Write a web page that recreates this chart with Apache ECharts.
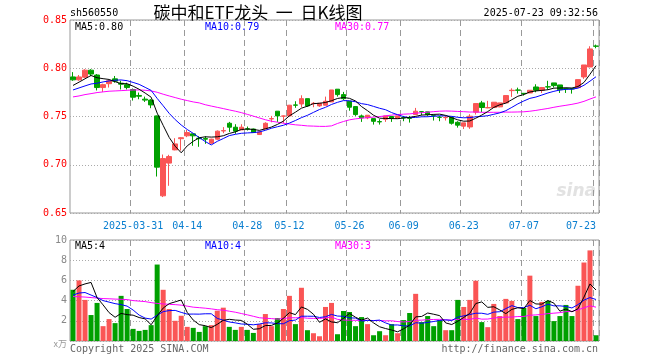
<!DOCTYPE html>
<html><head><meta charset="utf-8">
<script src="https://cdn.jsdelivr.net/npm/echarts@6/dist/echarts.min.js"></script>
<style>html,body{margin:0;padding:0;background:#fff}#c{width:660px;height:360px}</style>
</head><body><div id="c"></div><script>
const dates = [
'2025-03-17','2025-03-18','2025-03-19','2025-03-20','2025-03-21','2025-03-24','2025-03-25','2025-03-26','2025-03-27','2025-03-28','2025-03-31',
'2025-04-01','2025-04-02','2025-04-03','2025-04-07','2025-04-08','2025-04-09','2025-04-10','2025-04-11','2025-04-14',
'2025-04-15','2025-04-16','2025-04-17','2025-04-18','2025-04-21','2025-04-22','2025-04-23','2025-04-24','2025-04-25','2025-04-28','2025-04-29','2025-04-30',
'2025-05-06','2025-05-07','2025-05-08','2025-05-09','2025-05-12','2025-05-13','2025-05-14','2025-05-15','2025-05-16','2025-05-19','2025-05-20','2025-05-21','2025-05-22','2025-05-23','2025-05-26','2025-05-27','2025-05-28','2025-05-29','2025-05-30',
'2025-06-03','2025-06-04','2025-06-05','2025-06-06','2025-06-09','2025-06-10','2025-06-11','2025-06-12','2025-06-13','2025-06-16','2025-06-17','2025-06-18','2025-06-19','2025-06-20','2025-06-23','2025-06-24','2025-06-25','2025-06-26','2025-06-27','2025-06-30',
'2025-07-01','2025-07-02','2025-07-03','2025-07-04','2025-07-07','2025-07-08','2025-07-09','2025-07-10','2025-07-11','2025-07-14','2025-07-15','2025-07-16','2025-07-17','2025-07-18','2025-07-21','2025-07-22','2025-07-23'];

const opens = [0.791,0.788,0.7907,0.798,0.793,0.780,0.784,0.789,0.7845,0.783,
0.778,0.7718,0.768,0.767,0.7506,0.6678,0.7017,0.7154,0.727,0.730,
0.732,0.7275,0.7272,0.7224,0.7265,0.7350,0.743,0.7389,0.7361,0.7372,
0.737,0.7313,0.737,0.7475,0.7555,0.7503,0.7506,0.7620,0.763,0.7685,
0.7634,0.761,0.7617,0.7651,0.7783,0.7727,0.7658,0.7603,0.7506,0.7486,
0.7478,0.7447,0.7472,0.750,0.748,0.7489,0.7482,0.752,0.755,0.7548,
0.7508,0.7494,0.7488,0.7492,0.7440,0.740,0.7392,0.7545,0.7641,0.7589,
0.7593,0.760,0.7641,0.7768,0.7775,0.7740,0.7744,0.7806,0.7772,0.7808,
0.7848,0.7827,0.7790,0.7788,0.7799,0.791,0.8013,0.8230];

const closes = [0.788,0.791,0.798,0.794,0.780,0.783,0.787,0.7866,0.7835,0.780,
0.770,0.771,0.767,0.762,0.6975,0.7064,0.7085,0.7216,0.728,0.7333,
0.730,0.727,0.7265,0.7265,0.7348,0.7354,0.7389,0.7348,0.7389,0.737,
0.7334,0.734,0.743,0.7478,0.7506,0.7506,0.7617,0.7617,0.7685,0.761,
0.7637,0.7637,0.7658,0.7775,0.7727,0.7685,0.7596,0.752,0.7486,0.7513,
0.745,0.7444,0.7506,0.748,0.7506,0.7486,0.748,0.7555,0.7548,0.752,
0.7506,0.7492,0.749,0.743,0.7410,0.7434,0.7503,0.7634,0.7593,0.7593,
0.7648,0.7641,0.7717,0.7772,0.7772,0.7737,0.7772,0.7772,0.780,0.7806,
0.782,0.7778,0.7786,0.7786,0.7882,0.8034,0.820,0.8228];

const highs = [0.796,0.793,0.799,0.799,0.794,0.784,0.788,0.792,0.787,0.785,
0.779,0.7748,0.7706,0.768,0.751,0.7106,0.7103,0.7275,0.7286,0.736,
0.732,0.7296,0.7296,0.727,0.7355,0.739,0.7444,0.742,0.742,0.7396,
0.7375,0.735,0.744,0.7506,0.7555,0.751,0.762,0.7658,0.772,0.7685,
0.765,0.764,0.7706,0.7775,0.7783,0.7755,0.766,0.7603,0.752,0.7513,
0.7478,0.7472,0.7506,0.7506,0.7506,0.7506,0.7506,0.7589,0.7555,0.7548,
0.752,0.7506,0.7506,0.7492,0.7451,0.7434,0.7524,0.7634,0.7662,0.7662,
0.7648,0.7641,0.772,0.7792,0.7799,0.7744,0.7772,0.7834,0.7806,0.787,
0.7848,0.7827,0.7790,0.7793,0.7882,0.8034,0.8228,0.8245];

const lows = [0.787,0.787,0.790,0.792,0.777,0.7755,0.780,0.785,0.778,0.778,
0.7665,0.7679,0.7651,0.7586,0.6878,0.6665,0.6782,0.715,0.7147,0.7286,
0.7196,0.7186,0.7217,0.7217,0.726,0.7327,0.734,0.732,0.736,0.7355,
0.733,0.731,0.737,0.744,0.7444,0.743,0.7506,0.759,0.7596,0.760,
0.7596,0.760,0.7617,0.765,0.7706,0.767,0.756,0.7506,0.7444,0.7472,
0.7416,0.7416,0.7444,0.7444,0.748,0.7451,0.7437,0.752,0.7513,0.7506,
0.7458,0.7451,0.7458,0.7416,0.7385,0.737,0.7372,0.752,0.7545,0.7586,
0.759,0.7596,0.7641,0.7703,0.7737,0.7717,0.7744,0.7751,0.7744,0.7779,
0.780,0.7744,0.7744,0.7737,0.7799,0.789,0.8013,0.8207];

const volumes = [5.07,6.0,4.07,2.57,3.77,1.47,2.17,1.77,4.47,3.17,
1.2,1.0,1.1,1.57,7.57,5.07,3.17,2.0,2.5,1.4,
1.3,0.9,1.47,1.57,3.0,3.3,1.4,1.1,1.4,1.1,
0.8,1.67,2.67,1.47,2.27,3.17,4.47,1.67,5.27,1.07,
0.77,0.47,3.37,3.77,0.67,2.97,2.87,1.47,2.37,1.67,
0.57,0.97,0.57,1.67,0.77,2.07,2.77,4.67,1.87,2.47,
1.47,2.07,1.07,1.07,4.07,3.37,4.07,5.97,1.87,1.37,
3.67,2.47,4.17,3.97,2.17,3.27,6.47,2.47,3.87,3.97,
1.97,2.47,3.57,2.47,5.47,7.77,8.97,0.57];

// moving-average values before enough history is visible
const ma5Lead = [0.7822,0.7856,0.7891,0.7925];
const ma10Lead = [0.7775,0.7796,0.7817,0.7837,0.7845,0.7858,0.7869,0.7876,0.7879];
const ma30Lead = [0.7703,0.7713,0.7727,0.7737,0.7748,0.7755,0.7762,0.7765,0.7768,0.7772,
0.7775,0.7775,0.7772,0.7765,0.7751,0.7731,0.7713,0.7696,0.7679,0.7665,
0.7651,0.7641,0.7622,0.7608,0.7595,0.7582,0.7568,0.7555,0.7540];
const vma5Lead = [4.9,5.45,5.65,5.8];
const vma10Lead = [4.55,4.75,4.8,4.55,4.3,4.0,3.85,3.7,3.6];
const vma30Lead = [4.4,4.38,4.35,4.3,4.25,4.2,4.18,4.15,4.13,4.1,4.0,3.95,3.9,3.8,3.72,3.67,3.63,3.6,3.55,3.45,3.35,3.3,3.25,3.18,3.1,3.05,2.95,2.85,2.72];

const labelDates = ['2025-03-31','2025-04-14','2025-04-28','2025-05-12','2025-05-26','2025-06-09','2025-06-23','2025-07-07','2025-07-23'];
const labelTexts = ['2025-03-31','04-14','04-28','05-12','05-26','06-09','06-23','07-07','07-23'];
const priceTicks = {min:0.65, max:0.85, interval:0.05};
const volTicks = {min:0, max:10, interval:2};

function movingAvg(vals, n, lead){
  return vals.map((v,i)=>{
    if(i < n-1) return lead[i];
    let s=0; for(let k=i-n+1;k<=i;k++) s+=vals[k];
    return +(s/n).toFixed(5);
  });
}

const RED='#fa5555', GREEN='#00a000';
const MONO='"DejaVu Sans Mono", monospace';
const candleData = dates.map((d,i)=>[opens[i],closes[i],lows[i],highs[i]]);
const volData = volumes.map((v,i)=>({value:v,itemStyle:{color: closes[i]>=opens[i]?RED:GREEN}}));

const chart = echarts.init(document.getElementById('c'));
const lineS = (name,data,color,x,y)=>({name,type:'line',data,xAxisIndex:x,yAxisIndex:y,symbol:'none',silent:true,
  lineStyle:{color,width:1},itemStyle:{color},z:3});
const xSplit = ()=>({show:true,interval:(i,v)=>labelDates.indexOf(v)>=0,lineStyle:{color:'#999',width:1,type:[6,4]}});

chart.setOption({
  animation:false,
  grid:[
    {left:70,right:61,top:20,height:193,show:true,borderColor:'#999',borderWidth:1},
    {left:70,right:61,top:240,height:101,show:true,borderColor:'#999',borderWidth:1}
  ],
  xAxis:[
    {type:'category',data:dates,gridIndex:0,
     axisLine:{show:false},axisTick:{show:false},splitLine:xSplit(),
     axisLabel:{color:'#0a7fd0',fontFamily:MONO,fontSize:10,margin:8,alignMaxLabel:'right',
       interval:(i,v)=>labelDates.indexOf(v)>=0,
       formatter:(val)=>labelTexts[labelDates.indexOf(val)]||''}},
    {type:'category',data:dates,gridIndex:1,
     axisLine:{show:false},axisTick:{show:false},splitLine:xSplit(),axisLabel:{show:false}}
  ],
  yAxis:[
    {type:'value',gridIndex:0,min:priceTicks.min,max:priceTicks.max,interval:priceTicks.interval,
     axisLine:{show:false},axisTick:{show:false},
     splitLine:{show:true,lineStyle:{color:'#aaa',type:[1,2],width:1}},
     axisLabel:{color:'#ff0000',fontFamily:MONO,fontSize:10,margin:3,formatter:v=>v.toFixed(2)}},
    {type:'value',gridIndex:1,min:volTicks.min,max:volTicks.max,interval:volTicks.interval,
     axisLine:{show:false},axisTick:{show:false},
     splitLine:{show:true,lineStyle:{color:'#aaa',type:[1,2],width:1}},
     axisLabel:{color:'#888',fontFamily:MONO,fontSize:10,margin:3,formatter:v=>v===0?'':String(v)}}
  ],
  series:[
    {type:'candlestick',data:candleData,xAxisIndex:0,yAxisIndex:0,barWidth:5,z:2,
     itemStyle:{color:RED,color0:GREEN,borderColor:RED,borderColor0:GREEN,borderWidth:1}},
    lineS('MA30',movingAvg(closes,30,ma30Lead),'#ff00ff',0,0),
    lineS('MA10',movingAvg(closes,10,ma10Lead),'#0000ff',0,0),
    lineS('MA5',movingAvg(closes,5,ma5Lead),'#000000',0,0),
    {type:'bar',data:volData,xAxisIndex:1,yAxisIndex:1,barWidth:5,z:2},
    lineS('VMA30',movingAvg(volumes,30,vma30Lead),'#ff00ff',1,1),
    lineS('VMA10',movingAvg(volumes,10,vma10Lead),'#0000ff',1,1),
    lineS('VMA5',movingAvg(volumes,5,vma5Lead),'#000000',1,1)
  ],
  graphic:[
    {type:'text',x:70,y:13,style:{text:'sh560550',fill:'#000',font:'10px '+MONO,verticalAlign:'middle'}},
    {type:'text',x:258,y:13,style:{text:'碳中和ETF龙头  一  日K线图',fill:'#000',font:'17px "Noto Sans CJK SC"',align:'center',verticalAlign:'middle'}},
    {type:'text',x:598,y:13,style:{text:'2025-07-23 09:32:56',fill:'#000',font:'10px '+MONO,align:'right',verticalAlign:'middle'}},
    {type:'text',x:75,y:27,style:{text:'MA5:0.80',fill:'#000',font:'10px '+MONO,verticalAlign:'middle'}},
    {type:'text',x:205,y:27,style:{text:'MA10:0.79',fill:'#0000ff',font:'10px '+MONO,verticalAlign:'middle'}},
    {type:'text',x:335,y:27,style:{text:'MA30:0.77',fill:'#ff00ff',font:'10px '+MONO,verticalAlign:'middle'}},
    {type:'text',x:75,y:246,style:{text:'MA5:4',fill:'#000',font:'10px '+MONO,verticalAlign:'middle'}},
    {type:'text',x:205,y:246,style:{text:'MA10:4',fill:'#0000ff',font:'10px '+MONO,verticalAlign:'middle'}},
    {type:'text',x:335,y:246,style:{text:'MA30:3',fill:'#ff00ff',font:'10px '+MONO,verticalAlign:'middle'}},
    {type:'text',x:67,y:344,style:{text:'x万',fill:'#999',font:'9px "Noto Sans CJK SC"',align:'right',verticalAlign:'middle'}},
    {type:'text',x:70,y:349,style:{text:'Copyright 2025 SINA.COM',fill:'#666',font:'10px '+MONO,verticalAlign:'middle'}},
    {type:'text',x:598,y:349,style:{text:'http://finance.sina.com.cn',fill:'#666',font:'10px '+MONO,align:'right',verticalAlign:'middle'}},
    {type:'text',x:596,y:200,style:{text:'sina',fill:'#e2e2e2',font:'italic bold 17px "DejaVu Sans"',align:'right',verticalAlign:'bottom'}}
  ]
});
</script></body></html>
